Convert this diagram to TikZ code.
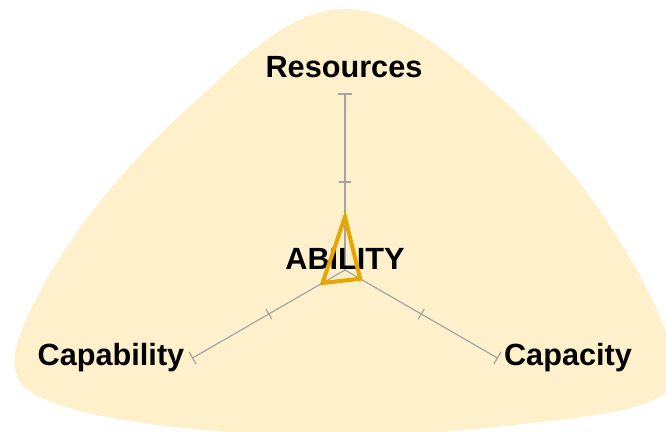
\documentclass[tikz,border=0pt]{standalone}
\usepackage{fontspec}
\setmainfont{Liberation Sans}
\usetikzlibrary{arrows.meta}

\definecolor{blobfill}{HTML}{FEF0CA}
\definecolor{axisgray}{HTML}{A4A4A4}
\definecolor{gold}{HTML}{E8A600}

\tikzset{every picture/.style={line width=0.75pt}}
\tikzset{
  axisline/.style={draw=axisgray, line width=0.9pt},
  axislabel/.style={inner sep=0.75pt, font=\fontsize{23}{24}\selectfont\bfseries},
}

\begin{document}
\begin{tikzpicture}[x=0.75pt,y=0.75pt,yscale=-1,xscale=1]
	\useasboundingbox (0,0) rectangle (666,431);
	
	%Shape: Blob [id:dp1]
	\fill [blobfill] (345,9) .. controls (395,9) and (440,45) .. (503,100)
		.. controls (568,157) and (648,265) .. (676,362)
		.. controls (685,398) and (640,410) .. (566,419)
		.. controls (500,427) and (420,436) .. (345,436)
		.. controls (250,436) and (140,428) .. (70,408)
		.. controls (20,394) and (5,378) .. (20,335)
		.. controls (40,280) and (100,185) .. (197,100)
		.. controls (250,50) and (295,9) .. cycle;
	
	% Axis ends
	\coordinate (ctr) at (345,270);
	\coordinate (res) at ([shift={(-90:176)}]ctr);
	\coordinate (cap) at ([shift={(150:176)}]ctr);
	\coordinate (cty) at ([shift={(30:176)}]ctr);
	
	%Straight Lines: axes with ticks
	\foreach \a/\e in {-90/res,150/cap,30/cty}{
		\draw [axisline] (ctr) -- (\e);
		\draw [axisline] (\e) ++(\a+90:7) -- ++(\a-90:14);
		\draw [axisline] ([shift={(\a:88)}]ctr) ++(\a+90:6) -- ++(\a-90:12);
	}
	
	% Text Node
	\node [axislabel] (lblres) at (344,67) {Resources};
	% Text Node
	\node [axislabel] (lblcap) at (111,358) {Capability};
	% Text Node
	\node [axislabel] (lblcty) at (568,358) {Capacity};
	% Text Node
	\node [axislabel] (lblabl) at (345,259) {ABILITY};
	
	%Shape: Triangle [id:dp2]
	\draw [gold, line width=3pt, line join=miter]
		([shift={(-90:53)}]ctr) -- ([shift={(150:26)}]ctr) -- ([shift={(30:17.5)}]ctr) -- cycle;
	
\end{tikzpicture}
\end{document}
